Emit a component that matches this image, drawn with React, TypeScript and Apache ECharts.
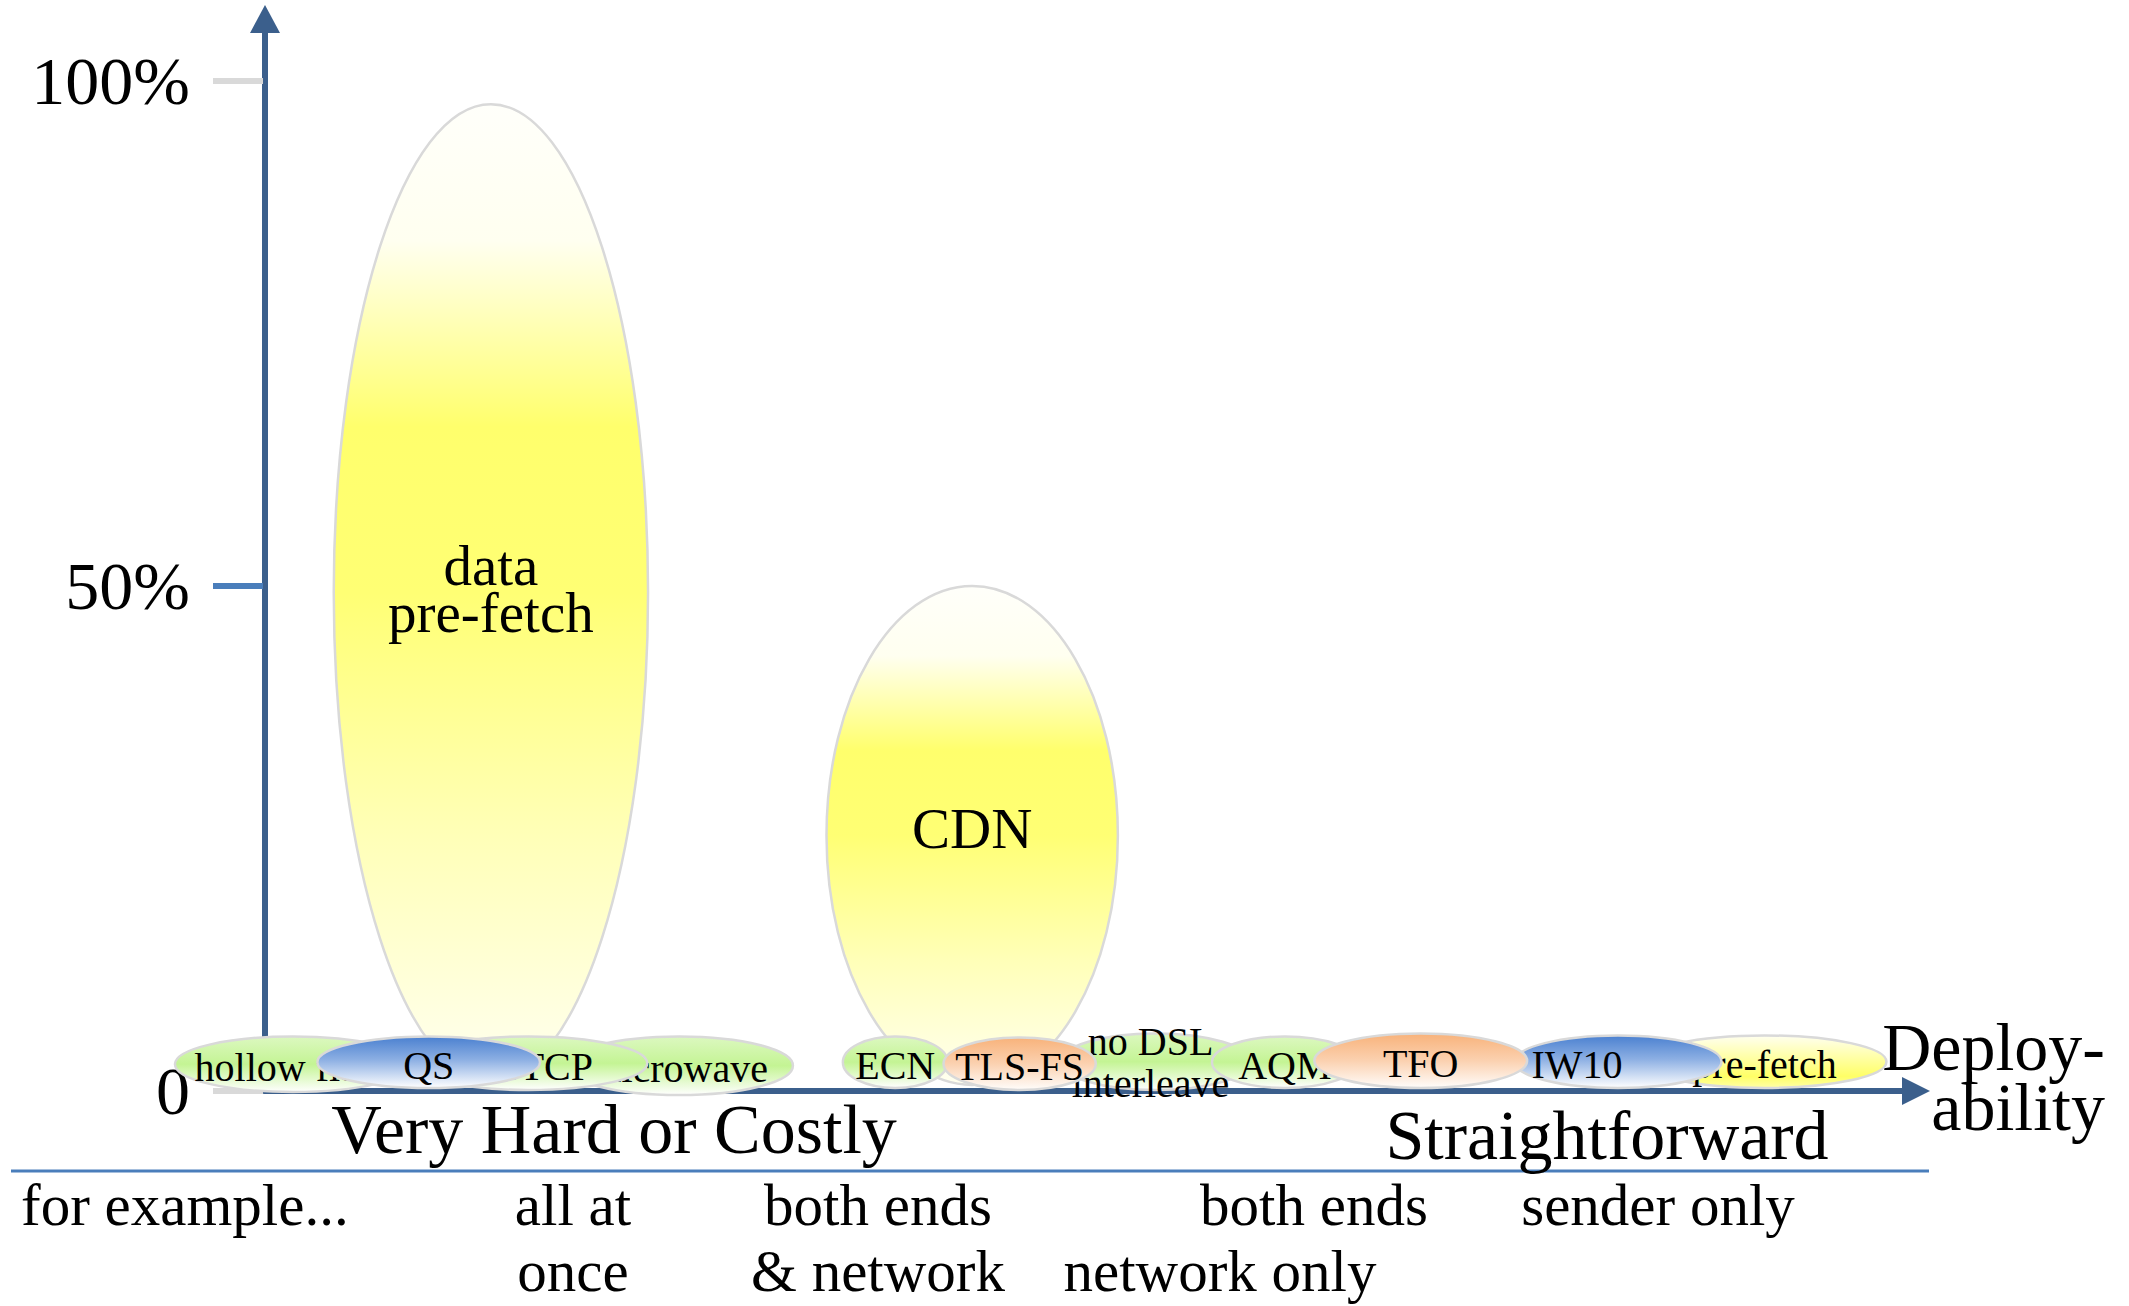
import React, { useEffect, useRef } from 'react';
import * as echarts from 'echarts';

// ---------- data ----------
// techniques, in drawing order (later ones cover earlier ones)
const techniques = [
  'data\npre-fetch', 'CDN', 'hollow fibre', 'microwave', 'DCTCP', 'QS',
  'ECN', 'no DSL\ninterleave', 'AQM', 'TLS-FS', 'pre-fetch', 'IW10', 'TFO',
];
// deployability (x, 0..100): centre and spread
const deployCentre = [13.8, 43.2, 1.7, 25.3, 16.1, 10.0, 38.5, 54.4, 62.3, 46.1, 91.6, 82.65, 70.6];
const deploySpread = [19.2, 17.8, 14.4, 13.9, 14.5, 13.6, 6.4, 11.6, 8.9, 9.3, 14.9, 12.65, 13.0];
// latency gain (y, %): low and high end
const gainLow = [1.0, 0.6, -0.1, -0.4, 0.1, 0.3, 0.3, 0.1, 0.3, 0.1, 0.3, 0.3, 0.3];
const gainHigh = [97.7, 50, 5.4, 5.4, 5.4, 5.4, 5.4, 5.7, 5.4, 5.3, 5.5, 5.5, 5.7];
const colourGroup = [
  'bigYellow', 'bigYellow', 'green', 'green', 'green', 'blue',
  'green', 'green', 'green', 'orange', 'yellow', 'blue', 'orange',
];

const yTickValues = [0, 50, 100];
const yTickLabels = ['0', '50%', '100%'];

const sideLabels = ['Very Hard or Costly', 'Straightforward'];
const axisTitle = 'Deploy-\nability';
const requirementLabels = [
  'for example...', 'all at\nonce', 'both ends\n& network', 'both ends', 'network only', 'sender only',
];

// ---------- styles ----------
const FONT = "'Liberation Serif', 'Times New Roman', serif";
const AXIS_BLUE = '#3b5f8c';
const LIGHT_BLUE = '#4a7ebb';
const tickColours = ['#d9d9d9', LIGHT_BLUE, '#d9d9d9'];

const palettes: Record<string, [number, string][]> = {
  bigYellow: [[0, '#fffffa'], [0.14, '#fffff0'], [0.33, '#ffff6c'], [0.5, '#ffff74'], [0.75, '#ffffb8'], [1, '#fffff0']],
  green: [[0, '#dcf8c0'], [0.5, '#c4f494'], [1, '#ffffff']],
  blue: [[0, '#4a80d0'], [0.45, '#8cafe3'], [1, '#ffffff']],
  orange: [[0, '#f8b27a'], [0.5, '#fbd1b0'], [1, '#fffdfb']],
  yellow: [[0, '#fffff0'], [0.78, '#ffff66'], [1, '#ffffa8']],
};

const labelNudge: Record<string, [number, number]> = {
  'data\npre-fetch': [0, -4],
  CDN: [0, -7],
  IW10: [-41, 3],
  'no DSL\ninterleave': [-5, 1],
};

const requirementLayout: { x: number; y: number; align: string }[] = [
  { x: 21, y: 1205, align: 'left' },
  { x: 573, y: 1238, align: 'center' },
  { x: 878, y: 1238, align: 'center' },
  { x: 1314, y: 1205, align: 'center' },
  { x: 1220, y: 1271, align: 'center' },
  { x: 1658, y: 1205, align: 'center' },
];

function textStyle(text: string, size: number, align: string, lineHeight?: number) {
  return {
    text,
    fill: '#000',
    fontSize: size,
    fontFamily: FONT,
    align,
    textAlign: align,
    verticalAlign: 'middle',
    textVerticalAlign: 'middle',
    lineHeight: lineHeight ?? Math.round(size * 1.1),
  };
}

function buildOption() {
  const seriesData = techniques.map((name, i) => ({
    name,
    value: [deployCentre[i], deploySpread[i], gainLow[i], gainHigh[i]],
  }));

  const tickData = yTickValues.map((v) => [0, v]);

  return {
    animation: false,
    backgroundColor: '#ffffff',
    grid: { left: 265, right: 227, top: 33, bottom: 215 },
    xAxis: {
      type: 'value',
      min: 0,
      max: 100,
      axisLine: {
        show: true,
        lineStyle: { color: AXIS_BLUE, width: 6 },
        symbol: ['none', 'triangle'],
        symbolSize: [28, 28],
        symbolOffset: [0, 14],
      },
      axisTick: { show: false },
      axisLabel: { show: false },
      splitLine: { show: false },
    },
    yAxis: {
      type: 'value',
      min: 0,
      max: 104.75,
      interval: 50,
      axisLine: {
        show: true,
        lineStyle: { color: AXIS_BLUE, width: 6 },
        symbol: ['none', 'triangle'],
        symbolSize: [30, 28],
        symbolOffset: [0, 14],
      },
      axisTick: { show: false },
      splitLine: { show: false },
      axisLabel: {
        margin: 75,
        fontSize: 68,
        fontFamily: FONT,
        color: '#000',
        formatter: (v: number) => {
          const k = yTickValues.indexOf(v);
          return k >= 0 ? yTickLabels[k] : '';
        },
      },
    },
    series: [
      {
        type: 'custom',
        name: 'ticks',
        clip: false,
        data: tickData,
        encode: { x: 0, y: 1 },
        renderItem: (params: any, api: any) => {
          const p = api.coord([api.value(0), api.value(1)]);
          return {
            type: 'line',
            shape: { x1: p[0] - 52, y1: p[1], x2: p[0] - 2, y2: p[1] },
            style: { stroke: tickColours[params.dataIndex], lineWidth: 6 },
          };
        },
      },
      {
        type: 'custom',
        name: 'techniques',
        clip: false,
        data: seriesData,
        encode: { x: 0, y: [2, 3] },
        renderItem: (params: any, api: any) => {
          const i = params.dataIndex;
          const xc = api.value(0);
          const w = api.value(1);
          const lo = api.value(2);
          const hi = api.value(3);
          const c = api.coord([xc, (lo + hi) / 2]);
          const s = api.size([w, hi - lo]);
          const name = techniques[i];
          const big = colourGroup[i] === 'bigYellow';
          const nudge = labelNudge[name] || [0, 3];
          const stops = palettes[colourGroup[i]].map(([offset, color]) => ({ offset, color }));
          return {
            type: 'group',
            children: [
              {
                type: 'ellipse',
                z2: i * 2,
                shape: { cx: c[0], cy: c[1], rx: Math.abs(s[0]) / 2, ry: Math.abs(s[1]) / 2 },
                style: {
                  fill: new echarts.graphic.LinearGradient(0, 0, 0, 1, stops),
                  stroke: '#d9d9d9',
                  lineWidth: 2.5,
                },
              },
              {
                type: 'text',
                z2: i * 2 + 1,
                x: c[0] + nudge[0],
                y: c[1] + nudge[1],
                style: textStyle(name, big ? 57 : 40, 'center', big ? 47 : 42),
              },
            ],
          };
        },
      },
    ],
    graphic: [
      {
        type: 'line',
        shape: { x1: 11, y1: 1171, x2: 1929, y2: 1171 },
        style: { stroke: LIGHT_BLUE, lineWidth: 3 },
      },
      { type: 'text', x: 614, y: 1129, style: textStyle(sideLabels[0], 70, 'center', 72) },
      { type: 'text', x: 1607, y: 1135, style: textStyle(sideLabels[1], 70, 'center', 72) },
      { type: 'text', x: 2105, y: 1077, style: textStyle(axisTitle, 68, 'right', 60) },
      ...requirementLabels.map((t, i) => ({
        type: 'text',
        x: requirementLayout[i].x,
        y: requirementLayout[i].y,
        style: textStyle(t, 59, requirementLayout[i].align, 66),
      })),
    ],
  };
}

export default function App() {
  const ref = useRef<HTMLDivElement>(null);
  useEffect(() => {
    if (!ref.current) return;
    const chart = echarts.init(ref.current, null, { renderer: 'svg' });
    chart.setOption(buildOption() as any);
    return () => chart.dispose();
  }, []);
  return (
    <div
      ref={ref}
      style={{ position: 'absolute', left: 0, top: 0, width: 2129, height: 1306, background: '#fff' }}
    />
  );
}
